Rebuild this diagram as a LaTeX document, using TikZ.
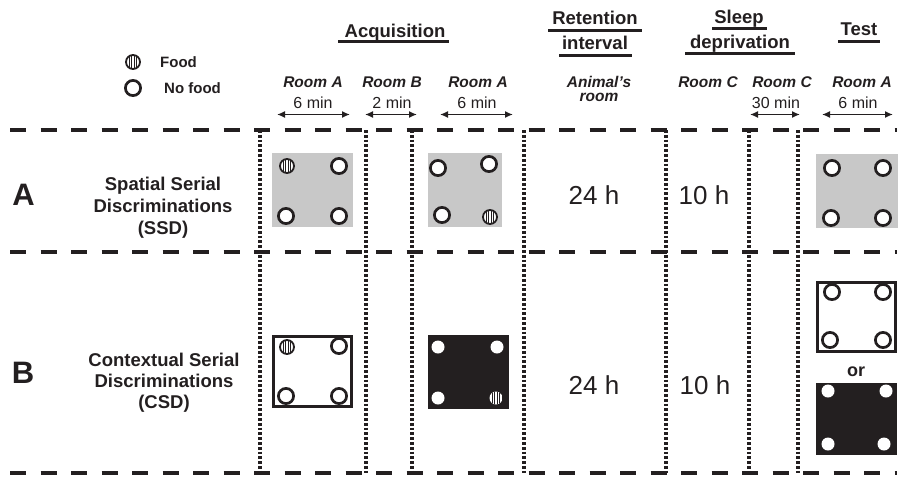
\documentclass[tikz,border=0pt]{standalone}
\usepackage{fontspec}
\setmainfont{Liberation Sans}
\usetikzlibrary{arrows.meta}
\definecolor{boxgray}{RGB}{200,200,200}
\definecolor{ink}{RGB}{35,31,32}
\begin{document}
\begin{tikzpicture}[x=1pt,y=-1pt,
  dashline/.style={line width=4.5pt, dash pattern=on 16pt off 14.5pt, draw=ink},
  dotline/.style={line width=3.2pt, dash pattern=on 2.8pt off 2pt, draw=ink},
  span/.style={{Latex[length=8pt,width=7pt]}-{Latex[length=8pt,width=7pt]}, line width=1.5pt, draw=ink},
  uline/.style={line width=3pt, draw=ink},
  txt/.style={inner sep=0pt, anchor=base, text=ink},
  title/.style={txt, font=\bfseries\fontsize{18.5}{21}\selectfont},
  room/.style={txt, font=\bfseries\itshape\fontsize{15.5}{18}\selectfont},
  dur/.style={txt, font=\fontsize{16}{18}\selectfont},
  big/.style={txt, font=\fontsize{26}{30}\selectfont},
  letter/.style={txt, font=\bfseries\fontsize{31}{34}\selectfont},
  rowlab/.style={txt, font=\bfseries\fontsize{18.5}{21}\selectfont},
  legend/.style={txt, anchor=base west, font=\bfseries\fontsize{15}{17}\selectfont},
  ring/.style={draw=ink, line width=2.7pt, fill=white},
  dot/.style={fill=white, draw=none},
  food/.pic={
    \begin{scope}
      \clip (0,0) circle (7);
      \fill[white] (0,0) circle (7);
      \foreach \sx in {-3.6,-1.2,1.2,3.6} \draw[ink, line width=1.1pt] (\sx,-8) -- (\sx,8);
    \end{scope}
    \draw[ink, line width=1.8pt] (0,0) circle (7);
  },
  fooddark/.pic={
    \begin{scope}
      \clip (0,0) circle (6.5);
      \fill[white] (0,0) circle (6.5);
      \foreach \sx in {-3.6,-1.2,1.2,3.6} \draw[ink, line width=1.1pt] (\sx,-8) -- (\sx,8);
    \end{scope}
  }
]
\useasboundingbox (0,0) rectangle (905,483);

% ---------- header titles ----------
\node[title] (acq) at (395,37) {Acquisition};
\draw[uline] (338,41.7) -- (449,41.7);
\node[title] (ret1) at (595,24) {Retention};
\draw[uline] (548,30) -- (642,30);
\node[title] (ret2) at (595,49) {interval};
\draw[uline] (559,55) -- (632,55);
\node[title] (slp1) at (739,23) {Sleep};
\draw[uline] (712,28.5) -- (767,28.5);
\node[title] (slp2) at (740,48) {deprivation};
\draw[uline] (685,53.5) -- (795,53.5);
\node[title] (tst) at (859,35.5) {Test};
\draw[uline] (838,41) -- (880,41);

% ---------- legend ----------
\path (133,62) pic {food};
\draw[ring] (133,88) circle (7.6);
\node[legend] (lfood) at (160,67.2) {Food};
\node[legend] (lnofood) at (164,93.2) {No food};

% ---------- room labels ----------
\node[room] (r1) at (313,87.5) {Room A};
\node[room] (r2) at (392,87.5) {Room B};
\node[room] (r3) at (478,87.5) {Room A};
\node[room] (r4) at (599,87) {Animal's};
\node[room] (r4b) at (599,101.5) {room};
\node[room] (r5) at (708,87.5) {Room C};
\node[room] (r6) at (782,87.5) {Room C};
\node[room] (r7) at (862,87.5) {Room A};

\node[dur] (d1) at (313,108.5) {6 min};
\node[dur] (d2) at (392,108.5) {2 min};
\node[dur] (d3) at (477,108.5) {6 min};
\node[dur] (d6) at (776,108.5) {30 min};
\node[dur] (d7) at (858,108.5) {6 min};

\coordinate (a1l) at (277,114.5); \coordinate (a1r) at (350,114.5);
\coordinate (a2l) at (365,114.5); \coordinate (a2r) at (417,114.5);
\coordinate (a3l) at (440,114.5); \coordinate (a3r) at (513,114.5);
\coordinate (a6l) at (750,114.5); \coordinate (a6r) at (800,114.5);
\coordinate (a7l) at (822,114.5); \coordinate (a7r) at (893,114.5);
\draw[span] (a1l) -- (a1r);
\draw[span] (a2l) -- (a2r);
\draw[span] (a3l) -- (a3r);
\draw[span] (a6l) -- (a6r);
\draw[span] (a7l) -- (a7r);

% ---------- grid lines ----------
\draw[dashline] (10,130) -- (897,130);
\draw[dashline] (10,252) -- (897,252);
\draw[dashline] (10,473) -- (897,473);
\foreach \vx in {260,366,412,524,666,749,798}
  \draw[dotline] (\vx,130) -- (\vx,473);

% ---------- row labels ----------
\node[letter] (la) at (23.5,205) {A};
\node[rowlab] (sa1) at (163,190.3) {Spatial Serial};
\node[rowlab] (sa2) at (163,212.3) {Discriminations};
\node[rowlab] (sa3) at (163,234.3) {(SSD)};
\node[letter] (lb) at (23,383) {B};
\node[rowlab] (sb1) at (164,366.3) {Contextual Serial};
\node[rowlab] (sb2) at (164,387.3) {Discriminations};
\node[rowlab] (sb3) at (164,408.3) {(CSD)};

% ---------- row A boxes ----------
\fill[boxgray] (272,153) rectangle (353,227);
\path (287,166) pic {food};
\draw[ring] (339,166) circle (7.6);
\draw[ring] (286,216) circle (7.6);
\draw[ring] (339,216) circle (7.6);

\fill[boxgray] (428,153) rectangle (502,227);
\draw[ring] (438,168) circle (7.6);
\draw[ring] (489,164) circle (7.6);
\draw[ring] (442,215) circle (7.6);
\path (490,217) pic {food};

\fill[boxgray] (816,154) rectangle (898,228);
\draw[ring] (832,168) circle (7.6);
\draw[ring] (883,168) circle (7.6);
\draw[ring] (831,218) circle (7.6);
\draw[ring] (883,218) circle (7.6);

\node[big] (ha) at (594,204.3) {24 h};
\node[big] (ta) at (704,204.3) {10 h};

% ---------- row B boxes ----------
\draw[ink, line width=3pt, fill=white] (273.5,336.5) rectangle (351.5,406.5);
\path (287,347) pic {food};
\draw[ring] (339,346) circle (7.6);
\draw[ring] (286,396) circle (7.6);
\draw[ring] (339,396) circle (7.6);

\fill[ink] (428,335) rectangle (509,409);
\fill[dot] (438,347) circle (6.5);
\fill[dot] (497,347) circle (6.5);
\fill[dot] (438,398) circle (6.5);
\path (496,398) pic {fooddark};

\draw[ink, line width=3pt, fill=white] (817.5,282.5) rectangle (895.5,351.5);
\draw[ring] (832,292) circle (7.6);
\draw[ring] (883,292) circle (7.6);
\draw[ring] (830,340) circle (7.6);
\draw[ring] (883,340) circle (7.6);

\node[txt, font=\bfseries\fontsize{18}{20}\selectfont] (or) at (856,376.5) {or};

\fill[ink] (816,383) rectangle (897,455);
\fill[dot] (828,391) circle (6.5);
\fill[dot] (886,391) circle (6.5);
\fill[dot] (828,444) circle (6.5);
\fill[dot] (884,444) circle (6.5);

\node[big] (hb) at (594,394.3) {24 h};
\node[big] (tb) at (705,394.3) {10 h};
\end{tikzpicture}
\end{document}
